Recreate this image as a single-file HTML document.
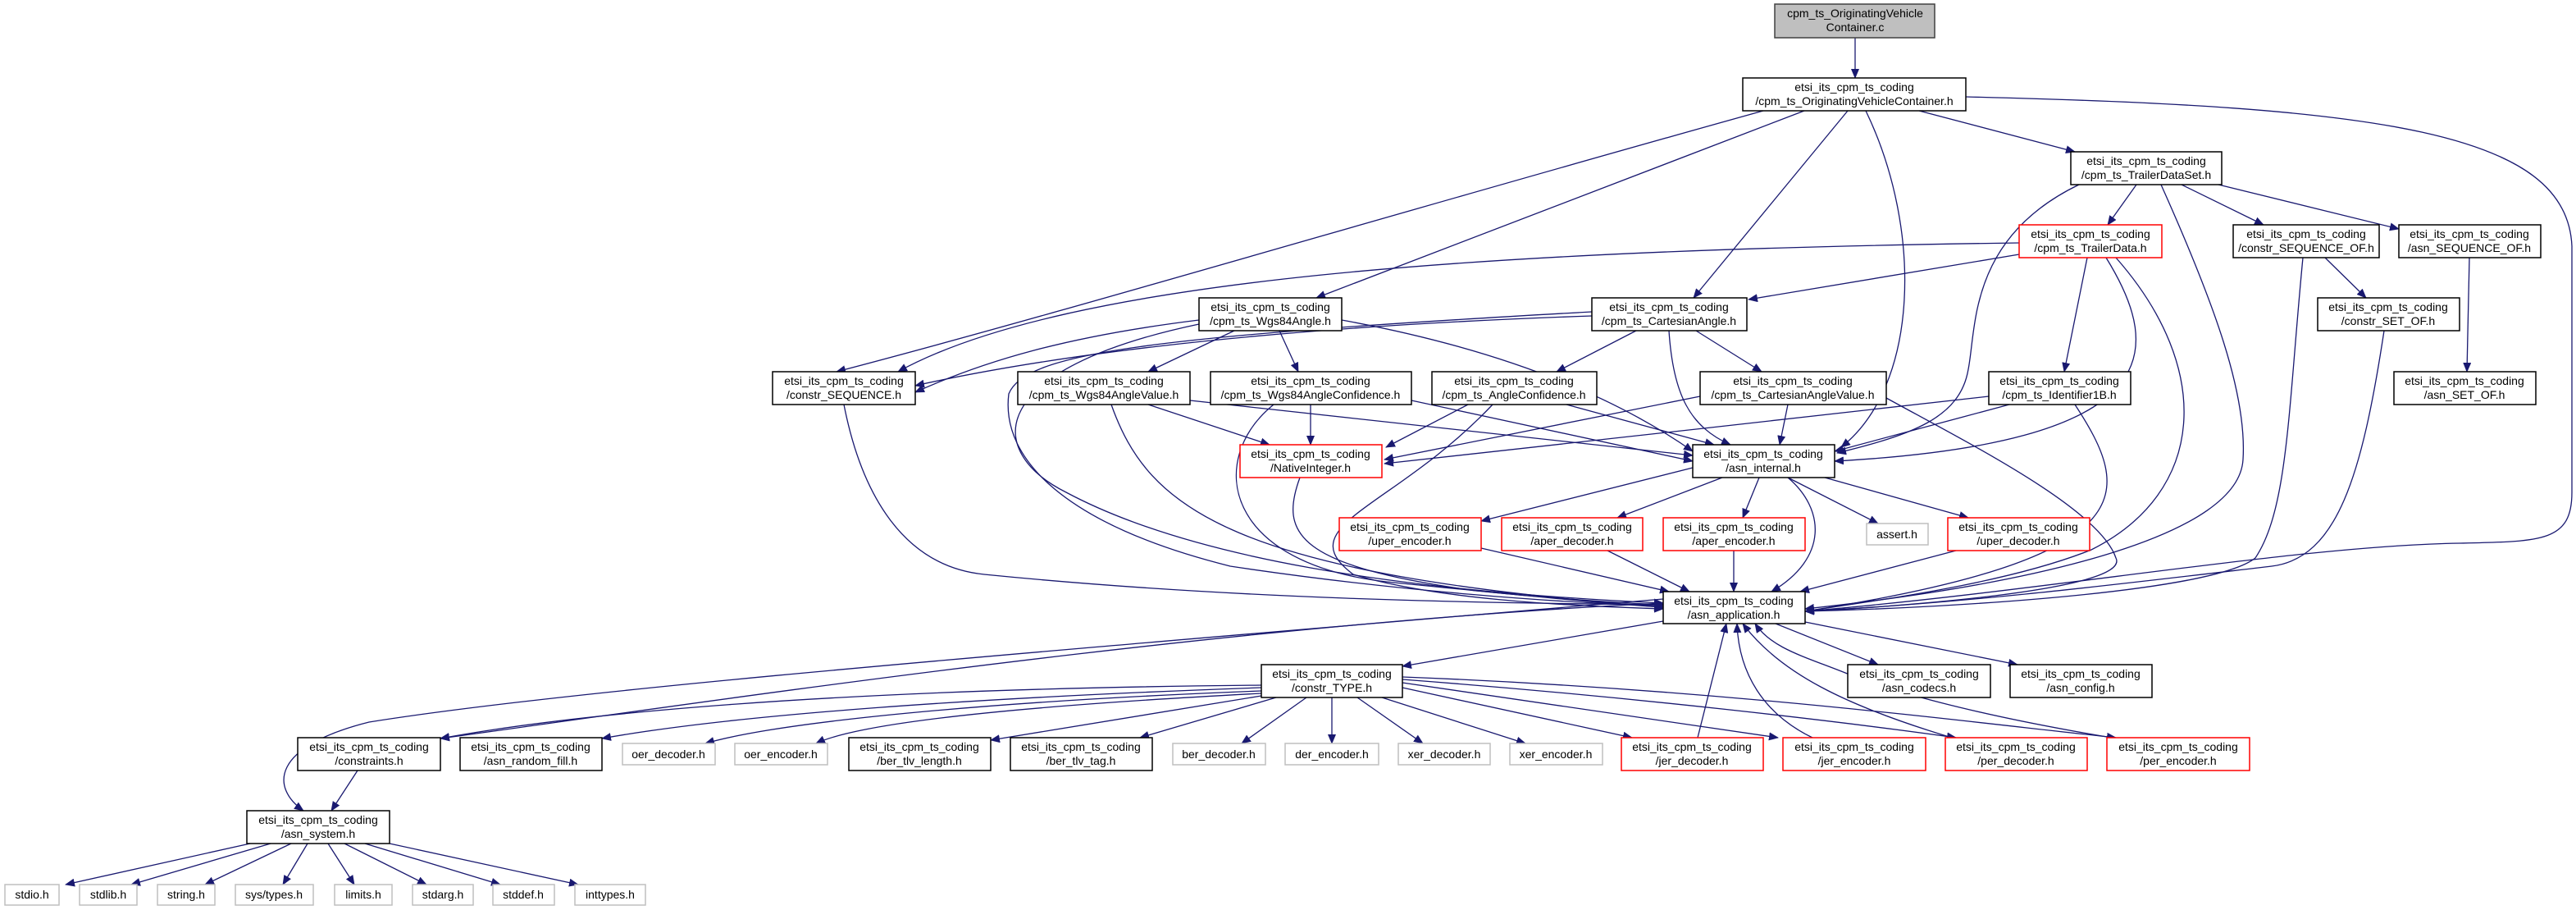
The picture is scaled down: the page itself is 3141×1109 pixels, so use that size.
<!DOCTYPE html>
<html><head><meta charset="utf-8"><style>
html,body{margin:0;padding:0;background:#fff;}
svg{display:block;}
text{font-family:"Liberation Sans",sans-serif;font-size:14px;fill:#000;text-anchor:middle;}
.e{fill:none;stroke:#191970;stroke-width:1.3;marker-end:url(#a);}
.b{fill:#fff;stroke:#000;stroke-width:1.5;}
.r{fill:#fff;stroke:#ff0000;stroke-width:1.5;}
.g{fill:#fff;stroke:#bfbfbf;stroke-width:1.5;}
</style></head><body>
<svg width="3141" height="1109" viewBox="0 0 3141 1109" xmlns="http://www.w3.org/2000/svg">
<defs><marker id="a" markerWidth="12" markerHeight="10" refX="11" refY="5" orient="auto" markerUnits="userSpaceOnUse"><polygon points="0,0 12,5 0,10" fill="#191970"/></marker></defs>
<g>
<path class="e" d="M2262 46 L2262 95"/>
<path class="e" d="M2150 135 C1700 260 1300 380 1020 453"/>
<path class="e" d="M2200 135 L1605 363"/>
<path class="e" d="M2253 135 L2065 363"/>
<path class="e" d="M2275 135 C2345 280 2340 470 2245 545"/>
<path class="e" d="M2340 135 L2530 185"/>
<path class="e" d="M2397 118 C2900 130 3130 160 3136 300 L3136 600 C3136 660 3100 660 3000 662 C2800 665 2500 720 2201 745"/>
<path class="e" d="M2605 225 L2570 274"/>
<path class="e" d="M2535 225 C2400 290 2410 400 2400 450 C2390 510 2330 530 2240 552"/>
<path class="e" d="M2635 225 C2700 370 2740 480 2735 560 C2730 650 2500 710 2201 742"/>
<path class="e" d="M2660 225 L2760 274"/>
<path class="e" d="M2705 225 L2925 279"/>
<path class="e" d="M2462 310 L2132 365"/>
<path class="e" d="M2462 296 C1800 305 1300 340 1095 453"/>
<path class="e" d="M2545 314 L2517 453"/>
<path class="e" d="M2568 314 C2640 430 2640 540 2237 562"/>
<path class="e" d="M2580 314 C2700 450 2690 600 2550 670 C2450 710 2300 730 2201 745"/>
<path class="e" d="M2835 314 L2885 363"/>
<path class="e" d="M2808 314 C2790 500 2790 620 2750 680 C2700 720 2400 740 2201 745"/>
<path class="e" d="M3011 314 L3008 453"/>
<path class="e" d="M2907 403 C2880 580 2850 680 2770 690 C2600 710 2400 735 2201 745"/>
<path class="e" d="M1462 390 C1300 410 1200 440 1116 478"/>
<path class="e" d="M1505 403 L1400 453"/>
<path class="e" d="M1560 403 L1583 453"/>
<path class="e" d="M1636 390 C1800 420 1950 470 2064 550"/>
<path class="e" d="M1462 395 C1200 450 1200 550 1300 600 C1450 680 1700 720 2028 735"/>
<path class="e" d="M1941 385 C1500 400 1250 440 1116 470"/>
<path class="e" d="M1995 403 L1898 453"/>
<path class="e" d="M2068 403 L2148 453"/>
<path class="e" d="M2035 403 C2040 480 2060 520 2110 542"/>
<path class="e" d="M1941 380 C1400 410 1250 430 1230 480 C1220 560 1300 640 1500 690 C1700 720 1900 735 2028 738"/>
<path class="e" d="M1029 493 C1050 600 1100 690 1200 700 C1500 730 1800 735 2028 737"/>
<path class="e" d="M1400 493 L1548 542"/>
<path class="e" d="M1451 488 L2064 555"/>
<path class="e" d="M1355 493 C1400 620 1500 700 2028 740"/>
<path class="e" d="M1598 493 L1598 542"/>
<path class="e" d="M1721 488 L2064 562"/>
<path class="e" d="M1553 493 C1470 560 1490 690 1700 710 C1850 725 1950 735 2028 740"/>
<path class="e" d="M1790 493 L1690 545"/>
<path class="e" d="M1910 493 L2090 542"/>
<path class="e" d="M1820 493 C1700 620 1570 640 1650 700 C1750 730 1900 738 2028 742"/>
<path class="e" d="M2073 483 L1688 560"/>
<path class="e" d="M2180 493 L2170 542"/>
<path class="e" d="M2300 485 C2400 540 2560 620 2580 680 C2600 720 2300 740 2201 745"/>
<path class="e" d="M2425 483 C2200 510 1900 540 1688 565"/>
<path class="e" d="M2450 493 L2237 550"/>
<path class="e" d="M2530 493 C2600 600 2620 680 2201 745"/>
<path class="e" d="M1585 582 C1560 650 1580 690 1800 720 C1900 730 1980 735 2028 737"/>
<path class="e" d="M2064 570 L1806 635"/>
<path class="e" d="M2100 582 L1972 631"/>
<path class="e" d="M2145 582 L2125 631"/>
<path class="e" d="M2180 582 L2290 638"/>
<path class="e" d="M2225 582 L2400 631"/>
<path class="e" d="M2180 582 C2225 620 2230 680 2160 721"/>
<path class="e" d="M1806 668 L2035 721"/>
<path class="e" d="M1960 671 L2060 721"/>
<path class="e" d="M2114 671 L2114 721"/>
<path class="e" d="M2385 671 L2195 721"/>
<path class="e" d="M2028 730 C1200 800 700 840 450 880 C330 910 330 960 370 988"/>
<path class="e" d="M2028 757 L1710 812"/>
<path class="e" d="M2165 760 L2290 810"/>
<path class="e" d="M2201 758 L2460 810"/>
<path class="e" d="M2028 735 C1500 760 900 850 537 900"/>
<path class="e" d="M1538 835 C1000 840 700 870 537 900"/>
<path class="e" d="M1538 838 C1200 850 900 870 734 900"/>
<path class="e" d="M1538 842 C1200 855 950 880 860 906"/>
<path class="e" d="M1538 845 C1250 860 1050 880 995 906"/>
<path class="e" d="M1538 848 L1208 902"/>
<path class="e" d="M1556 850 L1390 899"/>
<path class="e" d="M1593 850 L1514 906"/>
<path class="e" d="M1624 850 L1624 906"/>
<path class="e" d="M1655 850 L1735 906"/>
<path class="e" d="M1685 850 L1860 906"/>
<path class="e" d="M1710 838 L1990 899"/>
<path class="e" d="M1710 832 L2168 899"/>
<path class="e" d="M1710 828 C2000 850 2250 880 2385 899"/>
<path class="e" d="M1710 825 C2100 840 2400 880 2580 899"/>
<path class="e" d="M2070 899 L2105 760"/>
<path class="e" d="M2210 899 C2150 870 2120 820 2118 760"/>
<path class="e" d="M2380 899 C2250 860 2170 820 2125 760"/>
<path class="e" d="M2575 899 C2400 870 2300 840 2250 820 C2200 800 2160 790 2140 760"/>
<path class="e" d="M436 939 L404 988"/>
<path class="e" d="M305 1028 L80 1078"/>
<path class="e" d="M330 1028 L160 1078"/>
<path class="e" d="M355 1028 L250 1078"/>
<path class="e" d="M375 1028 L345 1078"/>
<path class="e" d="M400 1028 L432 1078"/>
<path class="e" d="M420 1028 L520 1078"/>
<path class="e" d="M445 1028 L610 1078"/>
<path class="e" d="M475 1028 L705 1078"/>
</g>
<g>
<rect x="2164" y="5" width="195" height="41" fill="#bfbfbf" stroke="#404040" stroke-width="1.5"/><text x="2262" y="21">cpm_ts_OriginatingVehicle</text><text x="2262" y="38">Container.c</text>
<rect class="b" x="2125" y="95" width="272" height="40"/><text x="2261" y="111">etsi_its_cpm_ts_coding</text><text x="2261" y="128">/cpm_ts_OriginatingVehicleContainer.h</text>
<rect class="b" x="2525" y="185" width="184" height="40"/><text x="2617" y="201">etsi_its_cpm_ts_coding</text><text x="2617" y="218">/cpm_ts_TrailerDataSet.h</text>
<rect class="r" x="2462" y="274" width="174" height="40"/><text x="2549" y="290">etsi_its_cpm_ts_coding</text><text x="2549" y="307">/cpm_ts_TrailerData.h</text>
<rect class="b" x="2723" y="274" width="178" height="40"/><text x="2812" y="290">etsi_its_cpm_ts_coding</text><text x="2812" y="307">/constr_SEQUENCE_OF.h</text>
<rect class="b" x="2925" y="274" width="173" height="40"/><text x="3011" y="290">etsi_its_cpm_ts_coding</text><text x="3011" y="307">/asn_SEQUENCE_OF.h</text>
<rect class="b" x="2826" y="363" width="173" height="40"/><text x="2912" y="379">etsi_its_cpm_ts_coding</text><text x="2912" y="396">/constr_SET_OF.h</text>
<rect class="b" x="2919" y="453" width="173" height="40"/><text x="3005" y="469">etsi_its_cpm_ts_coding</text><text x="3005" y="486">/asn_SET_OF.h</text>
<rect class="b" x="2425" y="453" width="173" height="40"/><text x="2511" y="469">etsi_its_cpm_ts_coding</text><text x="2511" y="486">/cpm_ts_Identifier1B.h</text>
<rect class="b" x="1462" y="363" width="174" height="40"/><text x="1549" y="379">etsi_its_cpm_ts_coding</text><text x="1549" y="396">/cpm_ts_Wgs84Angle.h</text>
<rect class="b" x="1941" y="363" width="189" height="40"/><text x="2035" y="379">etsi_its_cpm_ts_coding</text><text x="2035" y="396">/cpm_ts_CartesianAngle.h</text>
<rect class="b" x="942" y="453" width="174" height="40"/><text x="1029" y="469">etsi_its_cpm_ts_coding</text><text x="1029" y="486">/constr_SEQUENCE.h</text>
<rect class="b" x="1241" y="453" width="210" height="40"/><text x="1346" y="469">etsi_its_cpm_ts_coding</text><text x="1346" y="486">/cpm_ts_Wgs84AngleValue.h</text>
<rect class="b" x="1476" y="453" width="245" height="40"/><text x="1598" y="469">etsi_its_cpm_ts_coding</text><text x="1598" y="486">/cpm_ts_Wgs84AngleConfidence.h</text>
<rect class="b" x="1746" y="453" width="201" height="40"/><text x="1846" y="469">etsi_its_cpm_ts_coding</text><text x="1846" y="486">/cpm_ts_AngleConfidence.h</text>
<rect class="b" x="2073" y="453" width="227" height="40"/><text x="2186" y="469">etsi_its_cpm_ts_coding</text><text x="2186" y="486">/cpm_ts_CartesianAngleValue.h</text>
<rect class="r" x="1512" y="542" width="173" height="40"/><text x="1598" y="558">etsi_its_cpm_ts_coding</text><text x="1598" y="575">/NativeInteger.h</text>
<rect class="b" x="2064" y="542" width="173" height="40"/><text x="2150" y="558">etsi_its_cpm_ts_coding</text><text x="2150" y="575">/asn_internal.h</text>
<rect class="r" x="1633" y="631" width="173" height="40"/><text x="1719" y="647">etsi_its_cpm_ts_coding</text><text x="1719" y="664">/uper_encoder.h</text>
<rect class="r" x="1831" y="631" width="172" height="40"/><text x="1917" y="647">etsi_its_cpm_ts_coding</text><text x="1917" y="664">/aper_decoder.h</text>
<rect class="r" x="2028" y="631" width="173" height="40"/><text x="2114" y="647">etsi_its_cpm_ts_coding</text><text x="2114" y="664">/aper_encoder.h</text>
<rect class="g" x="2276" y="638" width="75" height="26"/><text x="2313" y="656">assert.h</text>
<rect class="r" x="2375" y="631" width="173" height="40"/><text x="2461" y="647">etsi_its_cpm_ts_coding</text><text x="2461" y="664">/uper_decoder.h</text>
<rect class="b" x="2028" y="721" width="173" height="39"/><text x="2114" y="737">etsi_its_cpm_ts_coding</text><text x="2114" y="754">/asn_application.h</text>
<rect class="b" x="1538" y="810" width="172" height="40"/><text x="1624" y="826">etsi_its_cpm_ts_coding</text><text x="1624" y="843">/constr_TYPE.h</text>
<rect class="b" x="2253" y="810" width="174" height="40"/><text x="2340" y="826">etsi_its_cpm_ts_coding</text><text x="2340" y="843">/asn_codecs.h</text>
<rect class="b" x="2451" y="810" width="173" height="40"/><text x="2537" y="826">etsi_its_cpm_ts_coding</text><text x="2537" y="843">/asn_config.h</text>
<rect class="b" x="363" y="899" width="174" height="40"/><text x="450" y="915">etsi_its_cpm_ts_coding</text><text x="450" y="932">/constraints.h</text>
<rect class="b" x="561" y="899" width="173" height="40"/><text x="647" y="915">etsi_its_cpm_ts_coding</text><text x="647" y="932">/asn_random_fill.h</text>
<rect class="g" x="759" y="906" width="113" height="26"/><text x="815" y="924">oer_decoder.h</text>
<rect class="g" x="896" y="906" width="113" height="26"/><text x="952" y="924">oer_encoder.h</text>
<rect class="b" x="1035" y="899" width="173" height="40"/><text x="1121" y="915">etsi_its_cpm_ts_coding</text><text x="1121" y="932">/ber_tlv_length.h</text>
<rect class="b" x="1232" y="899" width="173" height="40"/><text x="1318" y="915">etsi_its_cpm_ts_coding</text><text x="1318" y="932">/ber_tlv_tag.h</text>
<rect class="g" x="1430" y="906" width="113" height="26"/><text x="1486" y="924">ber_decoder.h</text>
<rect class="g" x="1567" y="906" width="114" height="26"/><text x="1624" y="924">der_encoder.h</text>
<rect class="g" x="1705" y="906" width="112" height="26"/><text x="1761" y="924">xer_decoder.h</text>
<rect class="g" x="1841" y="906" width="113" height="26"/><text x="1897" y="924">xer_encoder.h</text>
<rect class="r" x="1977" y="899" width="173" height="40"/><text x="2063" y="915">etsi_its_cpm_ts_coding</text><text x="2063" y="932">/jer_decoder.h</text>
<rect class="r" x="2174" y="899" width="174" height="40"/><text x="2261" y="915">etsi_its_cpm_ts_coding</text><text x="2261" y="932">/jer_encoder.h</text>
<rect class="r" x="2372" y="899" width="173" height="40"/><text x="2458" y="915">etsi_its_cpm_ts_coding</text><text x="2458" y="932">/per_decoder.h</text>
<rect class="r" x="2569" y="899" width="174" height="40"/><text x="2656" y="915">etsi_its_cpm_ts_coding</text><text x="2656" y="932">/per_encoder.h</text>
<rect class="b" x="301" y="988" width="174" height="40"/><text x="388" y="1004">etsi_its_cpm_ts_coding</text><text x="388" y="1021">/asn_system.h</text>
<rect class="g" x="6" y="1078" width="66" height="25"/><text x="39" y="1095">stdio.h</text>
<rect class="g" x="97" y="1078" width="70" height="25"/><text x="132" y="1095">stdlib.h</text>
<rect class="g" x="192" y="1078" width="70" height="25"/><text x="227" y="1095">string.h</text>
<rect class="g" x="287" y="1078" width="95" height="25"/><text x="334" y="1095">sys/types.h</text>
<rect class="g" x="408" y="1078" width="70" height="25"/><text x="443" y="1095">limits.h</text>
<rect class="g" x="503" y="1078" width="74" height="25"/><text x="540" y="1095">stdarg.h</text>
<rect class="g" x="601" y="1078" width="75" height="25"/><text x="638" y="1095">stddef.h</text>
<rect class="g" x="701" y="1078" width="86" height="25"/><text x="744" y="1095">inttypes.h</text>
</g>
</svg>
</body></html>
